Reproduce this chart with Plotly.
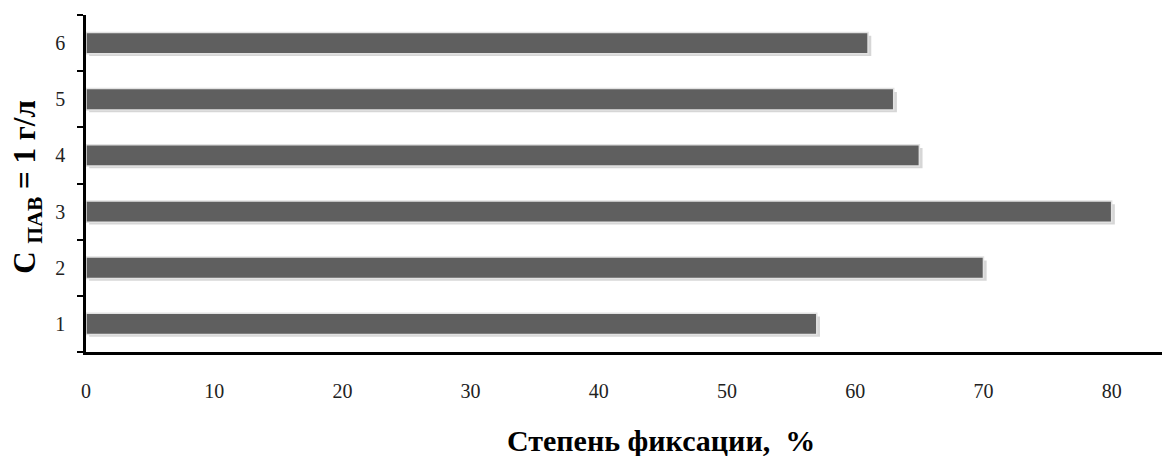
import plotly.graph_objects as go

categories = ["1", "2", "3", "4", "5", "6"]
values = [57, 70, 80, 65, 63, 61]
x_ticks = [0, 10, 20, 30, 40, 50, 60, 70, 80]

FONT = "Liberation Serif"

fig = go.Figure()
# soft shadow
fig.add_trace(go.Bar(
    y=categories, x=values, orientation="h", base=0.25,
    width=0.36, offset=-0.23,
    marker=dict(color="rgba(0,0,0,0.16)", line=dict(width=0)),
    hoverinfo="skip", showlegend=False,
))
fig.add_trace(go.Bar(
    y=categories, x=values, orientation="h",
    width=0.38, offset=-0.19,
    marker=dict(color="#5f5f5f", line=dict(color="#e2e2e2", width=1.5)),
    showlegend=False,
))

fig.update_layout(
    width=1170, height=456,
    margin=dict(l=78, r=8, t=7, b=112, autoexpand=False),
    paper_bgcolor="white", plot_bgcolor="white",
    barmode="overlay",
    font=dict(family=FONT, size=20, color="#222"),
    xaxis=dict(
        range=[0, 84.55], tickvals=x_ticks, ticks="",
        showgrid=False, zeroline=False, automargin=False,
        showline=True, linecolor="black", linewidth=2.5,
        ticklabelstandoff=19,
        tickfont=dict(family=FONT, size=20, color="#222"),
    ),
    yaxis=dict(
        type="category", categoryorder="array", categoryarray=categories,
        tickson="boundaries", ticks="outside", ticklen=6, tickwidth=2,
        tickcolor="black", automargin=False,
        showgrid=False, zeroline=False,
        showline=True, linecolor="black", linewidth=2.5,
        ticklabelstandoff=14,
        tickfont=dict(family=FONT, size=20, color="#222"),
    ),
    annotations=[
        dict(
            text="<b>Степень фиксации,  %</b>",
            xref="paper", yref="paper", x=0.530, y=-0.264,
            xanchor="center", yanchor="middle", showarrow=False,
            font=dict(family=FONT, size=30, color="black"),
        ),
        dict(
            text="<b>C <sub>ПАВ</sub> = 1 г/л</b>",
            xref="paper", yref="paper", x=-0.0545, y=0.49,
            xanchor="center", yanchor="middle", showarrow=False,
            textangle=-90,
            font=dict(family=FONT, size=31, color="black"),
        ),
    ],
)

fig.write_html("out.html")
